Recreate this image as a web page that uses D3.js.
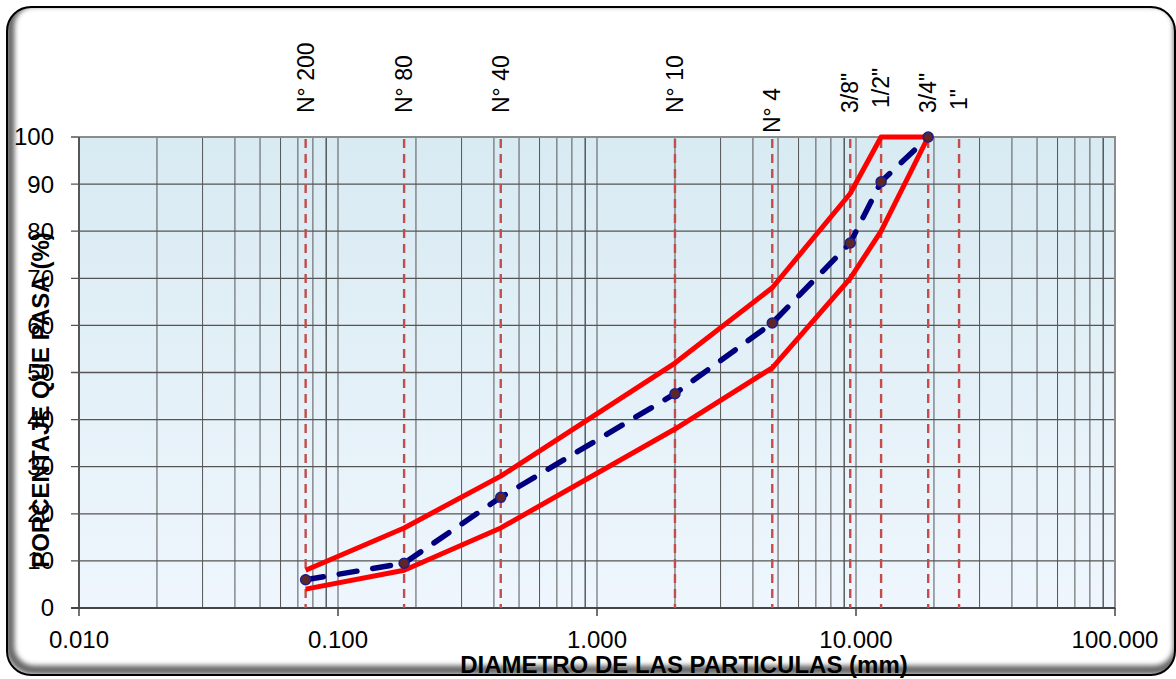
<!DOCTYPE html>
<meta charset="utf-8">
<style>
body { margin: 0; background: #fff; }
text { font-family: "Liberation Sans", Arial, sans-serif; fill: #000; }
.tick-label { font-size: 24px; }
.sieve-label { font-size: 23px; }
.axis-title { font-size: 24px; font-weight: bold; }
</style>
<svg width="1176" height="679"></svg>
<script src="https://d3js.org/d3.v7.min.js"></script>
<script>
// sieve openings (mm) and their names
var sieveNames = ["N° 200", "N° 80", "N° 40", "N° 10", "N° 4", "3/8\"", "1/2\"", "3/4\"", "1\""];
var sieveSizes = [0.075, 0.18, 0.425, 2.0, 4.75, 9.5, 12.5, 19.0, 25.0];

// gradation: sample and spec limits, % passing (first 8 sieves)
var curveSizes = [0.075, 0.18, 0.425, 2.0, 4.75, 9.5, 12.5, 19.0];
var samplePass = [6, 9.5, 23.5, 45.5, 60.5, 77.5, 90.5, 100];
var upperLimit = [8, 17, 28, 52, 68, 88, 100, 100];
var lowerLimit = [4, 8, 17, 38, 51, 70, 80, 100];

// axis ticks
var xTicks = [0.01, 0.1, 1, 10, 100];
var yTicks = [0, 10, 20, 30, 40, 50, 60, 70, 80, 90, 100];

var svg = d3.select("svg"),
    W = +svg.attr("width"),
    H = +svg.attr("height"),
    margin = {top: 137, right: 61, bottom: 71, left: 79},
    width = W - margin.left - margin.right,
    height = H - margin.top - margin.bottom;

var x = d3.scaleLog().domain([0.01, 100]).range([margin.left, margin.left + width]);
var y = d3.scaleLinear().domain([0, 100]).range([margin.top + height, margin.top]);

var defs = svg.append("defs");

var grad = defs.append("linearGradient")
    .attr("id", "plotBg").attr("x1", 0).attr("y1", 0).attr("x2", 0).attr("y2", 1);
grad.append("stop").attr("offset", "0%").attr("stop-color", "#d8eaf2");
grad.append("stop").attr("offset", "100%").attr("stop-color", "#eff6fd");

defs.append("clipPath").attr("id", "frameClip")
  .append("rect").attr("x", 7).attr("y", 7).attr("width", 1168).attr("height", 668).attr("rx", 24);

defs.append("filter").attr("id", "soft")
    .attr("x", "-5%").attr("y", "-5%").attr("width", "110%").attr("height", "110%")
  .append("feGaussianBlur").attr("stdDeviation", 2.5);

// chart frame with inner shadow on left and bottom
svg.append("g").attr("clip-path", "url(#frameClip)")
  .append("rect")
    .attr("x", 7).attr("y", 7).attr("width", 1168).attr("height", 668).attr("rx", 24)
    .attr("fill", "none").attr("stroke", "#000").attr("stroke-opacity", 0.6)
    .attr("stroke-width", 9).attr("filter", "url(#soft)")
    .attr("transform", "translate(3,-5)");
svg.append("rect")
    .attr("x", 7).attr("y", 7).attr("width", 1168).attr("height", 668).attr("rx", 24)
    .attr("fill", "none").attr("stroke", "#000").attr("stroke-width", 2);

// plot area
svg.append("rect")
    .attr("x", margin.left).attr("y", margin.top)
    .attr("width", width).attr("height", height)
    .attr("fill", "url(#plotBg)");

// vertical log gridlines
var minor = [];
[0.01, 0.1, 1, 10].forEach(function(p) {
  for (var k = 2; k <= 9; k++) minor.push(p * k);
});
svg.append("g").selectAll("line")
  .data(minor)
  .enter().append("line")
    .attr("x1", function(d) { return x(d); }).attr("x2", function(d) { return x(d); })
    .attr("y1", margin.top).attr("y2", margin.top + height)
    .attr("stroke", function(d) { return Math.round(d / Math.pow(10, Math.floor(Math.log10(d) + 1e-9))) === 9 ? "#111" : "#555"; })
    .attr("stroke-width", 1);
svg.append("g").selectAll("line")
  .data(xTicks.slice(1, -1))
  .enter().append("line")
    .attr("x1", function(d) { return x(d); }).attr("x2", function(d) { return x(d); })
    .attr("y1", margin.top).attr("y2", margin.top + height)
    .attr("stroke", "#555").attr("stroke-width", 1);

// horizontal gridlines + ticks
svg.append("g").selectAll("line")
  .data(yTicks)
  .enter().append("line")
    .attr("x1", margin.left - 8).attr("x2", margin.left + width)
    .attr("y1", function(d) { return y(d); }).attr("y2", function(d) { return y(d); })
    .attr("stroke", "#555").attr("stroke-width", 1.3);

// plot border
svg.append("rect")
    .attr("x", margin.left).attr("y", margin.top)
    .attr("width", width).attr("height", height)
    .attr("fill", "none").attr("stroke", "#8c8c8c").attr("stroke-width", 2);
svg.append("line")
    .attr("x1", margin.left).attr("x2", margin.left)
    .attr("y1", margin.top).attr("y2", margin.top + height)
    .attr("stroke", "#444").attr("stroke-width", 1.5);
svg.append("line")
    .attr("x1", margin.left - 8).attr("x2", margin.left + width)
    .attr("y1", margin.top + height).attr("y2", margin.top + height)
    .attr("stroke", "#444").attr("stroke-width", 2);
svg.append("g").selectAll("line")
  .data(xTicks)
  .enter().append("line")
    .attr("x1", function(d) { return x(d); }).attr("x2", function(d) { return x(d); })
    .attr("y1", margin.top + height).attr("y2", margin.top + height + 8)
    .attr("stroke", "#444").attr("stroke-width", 1.5);

// y tick labels
svg.append("g").selectAll("text")
  .data(yTicks)
  .enter().append("text")
    .attr("class", "tick-label")
    .attr("x", 54).attr("y", function(d) { return y(d); })
    .attr("dy", "0.35em").attr("text-anchor", "end")
    .text(function(d) { return d; });

// x tick labels
svg.append("g").selectAll("text")
  .data(xTicks)
  .enter().append("text")
    .attr("class", "tick-label")
    .attr("x", function(d) { return x(d); }).attr("y", 648)
    .attr("text-anchor", "middle")
    .text(function(d) { return d3.format(".3f")(d); });

// sieve reference lines
svg.append("g").selectAll("line")
  .data(sieveSizes)
  .enter().append("line")
    .attr("x1", function(d) { return x(d); }).attr("x2", function(d) { return x(d); })
    .attr("y1", margin.top + 2).attr("y2", margin.top + height)
    .attr("stroke", "#c44d4b").attr("stroke-width", 2.4)
    .attr("stroke-dasharray", "9,6");

// sieve names above the plot (N° 4 sits a little lower)
var labelShift = {"N° 4": 20, "1/2\"": -5, "1\"": -3};
svg.append("g").selectAll("text")
  .data(sieveNames)
  .enter().append("text")
    .attr("class", "sieve-label")
    .attr("transform", function(d, i) {
      return "translate(" + x(sieveSizes[i]) + "," + (113 + (labelShift[d] || 0)) + ") rotate(-90)";
    })
    .attr("dy", "0.35em")
    .text(function(d) { return d; });

// limit curves and sample curve
var line = d3.line()
    .x(function(d) { return x(d[0]); })
    .y(function(d) { return y(d[1]); });

[upperLimit, lowerLimit].forEach(function(lim) {
  svg.append("path")
      .datum(d3.zip(curveSizes, lim))
      .attr("d", line)
      .attr("fill", "none").attr("stroke", "#ff0000")
      .attr("stroke-width", 5).attr("stroke-linejoin", "round");
});

svg.append("path")
    .datum(d3.zip(curveSizes, samplePass))
    .attr("d", line)
    .attr("fill", "none").attr("stroke", "#00007e")
    .attr("stroke-width", 5.5).attr("stroke-linecap", "round")
    .attr("stroke-dasharray", "18,16");

svg.append("g").selectAll("circle")
  .data(d3.zip(curveSizes, samplePass))
  .enter().append("circle")
    .attr("cx", function(d) { return x(d[0]); })
    .attr("cy", function(d) { return y(d[1]); })
    .attr("r", 5)
    .attr("fill", "#5e2626").attr("stroke", "#1c1c90").attr("stroke-width", 1.5);

// axis titles
svg.append("text")
    .attr("class", "axis-title")
    .attr("x", 684).attr("y", 673)
    .attr("text-anchor", "middle")
    .text("DIAMETRO DE LAS PARTICULAS (mm)");

svg.append("text")
    .attr("class", "axis-title")
    .attr("transform", "translate(41,400) rotate(-90)")
    .attr("dy", "0.35em")
    .attr("text-anchor", "middle")
    .text("PORCENTAJE QUE PASA (%)");
</script>
